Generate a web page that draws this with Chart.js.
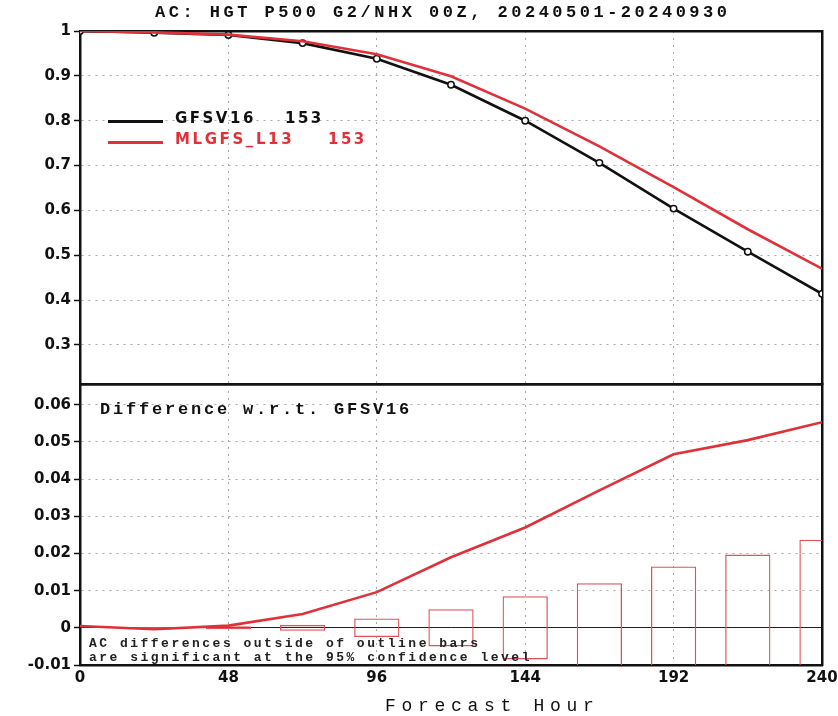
<!DOCTYPE html>
<html>
<head>
<meta charset="utf-8">
<script src="https://cdn.jsdelivr.net/npm/chart.js@4.4.1/dist/chart.umd.min.js"></script>
<style>
  body { margin: 0; background: #fff; }
  #wrap { position: relative; width: 838px; height: 716px; overflow: hidden; }
  #top { position: absolute; left: 0; top: 0; width: 838px; height: 396px; }
  #bottom { position: absolute; left: 0; top: 372px; width: 838px; height: 344px; }
  .txt { position: absolute; white-space: pre; color: #111; line-height: 1; }
  .mono { font-family: "Liberation Mono", monospace; font-weight: bold; }
  .sans { font-family: "DejaVu Sans", sans-serif; font-weight: bold; }
  .swatch { position: absolute; height: 3px; width: 55px; }
</style>
</head>
<body>
<div id="wrap">
  <canvas id="top" width="838" height="396"></canvas>
  <canvas id="bottom" width="838" height="344"></canvas>

  <div class="txt mono" style="left:155px; top:4px; font-size:17px; letter-spacing:3.5px;">AC: HGT P500 G2/NHX 00Z, 20240501-20240930</div>

  <div class="swatch" style="left:108px; top:120px; background:#111;"></div>
  <div class="txt sans" style="left:175px; top:111px; font-size:15px; letter-spacing:2.5px;">GFSV16</div>
  <div class="txt sans" style="left:285px; top:111px; font-size:15px; letter-spacing:2.5px;">153</div>
  <div class="swatch" style="left:108px; top:141px; background:#e0313a;"></div>
  <div class="txt sans" style="left:175px; top:132px; font-size:15px; letter-spacing:2.6px; color:#e0313a;">MLGFS_L13</div>
  <div class="txt sans" style="left:328px; top:132px; font-size:15px; letter-spacing:2.5px; color:#e0313a;">153</div>

  <div class="txt mono" style="left:100px; top:401px; font-size:17px; letter-spacing:2.8px;">Difference w.r.t. GFSV16</div>
  <div class="txt mono" style="left:89px; top:637px; font-size:13px; letter-spacing:2.5px; color:#222;">AC differences outside of outline bars</div>
  <div class="txt mono" style="left:89px; top:651px; font-size:13px; letter-spacing:2.5px; color:#222;">are significant at the 95% confidence level</div>

  <div class="txt mono" style="left:385px; top:697px; font-size:18px; letter-spacing:5.7px; font-weight:normal;">Forecast Hour</div>
</div>

<script>
// Datos
const hours = [0, 24, 48, 72, 96, 120, 144, 168, 192, 216, 240];
const gfsv16 = [1.0, 0.996, 0.991, 0.973, 0.938, 0.880, 0.800, 0.706, 0.604, 0.508, 0.414];
const mlgfs = [1.0, 0.997, 0.992, 0.977, 0.948, 0.899, 0.827, 0.743, 0.652, 0.558, 0.470];
const diff = [0.0005, -0.0004, 0.0006, 0.0037, 0.0096, 0.019, 0.027, 0.037, 0.0467, 0.0505, 0.0553];

// Barras de confianza (mitad del intervalo, simetricas alrededor de 0)
const barHours = [24, 48, 72, 96, 120, 144, 168, 192, 216, 240];
const barHalf = [0.0002, 0.0004, 0.0008, 0.0025, 0.005, 0.0085, 0.012, 0.0165, 0.0197, 0.0237];

const xTicks = [0, 48, 96, 144, 192, 240];
const topTicks = [0.3, 0.4, 0.5, 0.6, 0.7, 0.8, 0.9, 1];
const bottomTicks = [-0.01, 0, 0.01, 0.02, 0.03, 0.04, 0.05, 0.06];

const RED = "#e0313a";
const BAR_RED = "#e2505a";
const DOTS = "#a8a8a8";
const tickFont = { family: "DejaVu Sans", size: 15, weight: "bold" };

function setTicks(values) {
    return function (scale) {
        scale.ticks = values.map(v => ({ value: v }));
    };
}

function fixSize(size) {
    return function (scale) {
        if (scale.isHorizontal()) scale.height = size;
        else scale.width = size;
    };
}

function fmt(v) {
    return String(Math.round(v * 1000) / 1000);
}

// Ejes de marco (arriba y a la derecha)
function frameAxis(position, size, axis) {
    return {
        type: "linear",
        axis: axis,
        position: position,
        min: 0,
        max: 1,
        ticks: { display: false },
        grid: { display: false, drawTicks: false },
        border: { display: true, color: "#111", width: 2.5 },
        afterFit: fixSize(size)
    };
}

const xBase = {
    type: "linear",
    min: 0,
    max: 240,
    afterBuildTicks: setTicks(xTicks),
    grid: { color: DOTS, lineWidth: 1, drawTicks: false },
    border: { color: "#111", width: 2.5, dash: [2, 5] }
};

// Panel superior
new Chart(document.getElementById("top"), {
    type: "line",
    data: {
        labels: hours,
        datasets: [
            {
                label: "MLGFS_L13 153",
                data: hours.map((h, i) => ({ x: h, y: mlgfs[i] })),
                borderColor: RED,
                borderWidth: 2.6,
                pointRadius: 0,
                tension: 0
            },
            {
                label: "GFSV16 153",
                data: hours.map((h, i) => ({ x: h, y: gfsv16[i] })),
                borderColor: "#111",
                borderWidth: 2.6,
                pointRadius: 3.2,
                pointBorderWidth: 1.5,
                pointBackgroundColor: "#fff",
                pointBorderColor: "#111",
                tension: 0
            }
        ]
    },
    options: {
        responsive: false,
        animation: false,
        layout: { padding: 0 },
        plugins: { legend: { display: false }, tooltip: { enabled: false } },
        scales: {
            x: Object.assign({}, xBase, {
                position: "bottom",
                ticks: { display: false },
                afterFit: fixSize(12)
            }),
            xTop: frameAxis("top", 31, "x"),
            y: {
                type: "linear",
                position: "left",
                min: 0.213,
                max: 1,
                afterBuildTicks: setTicks(topTicks),
                afterFit: fixSize(80),
                ticks: { font: tickFont, color: "#111", padding: 3, callback: v => fmt(v) },
                grid: { color: DOTS, tickColor: "#111", tickLength: 6, tickWidth: 1.5 },
                border: { color: "#111", width: 2.5, dash: [2, 5] }
            },
            yRight: frameAxis("right", 16, "y")
        }
    }
});

// Panel inferior
new Chart(document.getElementById("bottom"), {
    type: "bar",
    data: {
        datasets: [
            {
                type: "line",
                label: "MLGFS_L13 - GFSV16",
                data: hours.map((h, i) => ({ x: h, y: diff[i] })),
                borderColor: RED,
                borderWidth: 2.6,
                pointRadius: 0,
                tension: 0
            },
            {
                type: "bar",
                label: "95% confidence",
                data: barHours.map((h, i) => ({ x: h, y: [-barHalf[i], barHalf[i]] })),
                backgroundColor: "rgba(0,0,0,0)",
                borderColor: BAR_RED,
                borderWidth: 1.3,
                borderSkipped: false,
                categoryPercentage: 1,
                barPercentage: 0.61
            }
        ]
    },
    options: {
        responsive: false,
        animation: false,
        layout: { padding: 0 },
        plugins: { legend: { display: false }, tooltip: { enabled: false } },
        scales: {
            x: Object.assign({}, xBase, {
                position: "bottom",
                offset: false,
                grid: { color: DOTS, lineWidth: 1, drawTicks: true, tickLength: 4, tickColor: "rgba(0,0,0,0)", offset: false },
                ticks: { font: tickFont, color: "#111", padding: 0, maxRotation: 0, callback: v => fmt(v) },
                afterFit: fixSize(51)
            }),
            xTop: frameAxis("top", 12, "x"),
            y: {
                type: "linear",
                position: "left",
                min: -0.01,
                max: 0.0656,
                afterBuildTicks: setTicks(bottomTicks),
                afterFit: fixSize(80),
                ticks: { font: tickFont, color: "#111", padding: 3, callback: v => fmt(v) },
                grid: {
                    color: ctx => (ctx.tick && ctx.tick.value === 0 ? "#222" : DOTS),
                    tickColor: "#111",
                    tickLength: 6,
                    tickWidth: 1.5
                },
                border: {
                    color: "#111",
                    width: 2.5,
                    dash: ctx => (ctx.tick && ctx.tick.value === 0 ? [] : [2, 5])
                }
            },
            yRight: frameAxis("right", 16, "y")
        }
    }
});
</script>
</body>
</html>
